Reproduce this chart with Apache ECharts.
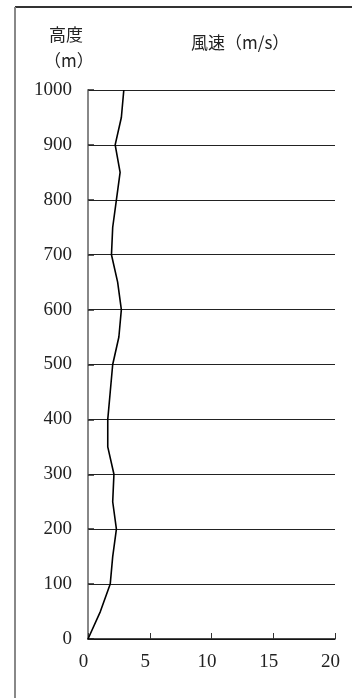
<!DOCTYPE html>
<html>
<head>
<meta charset="utf-8">
<script src="https://cdn.jsdelivr.net/npm/echarts@6/dist/echarts.min.js"></script>
<style>
html,body{margin:0;padding:0;background:#fff;}
#c{width:352px;height:698px;}
</style>
</head>
<body>
<div id="c"></div>
<script>
// Heights (m) and wind speeds (m/s)
var heights = [0, 50, 100, 150, 200, 250, 300, 350, 400, 450, 500, 550, 600, 650, 700, 750, 800, 850, 900, 950, 1000];
var windSpeed = [0, 1.0, 1.8, 2.0, 2.3, 2.0, 2.1, 1.6, 1.6, 1.8, 2.0, 2.5, 2.7, 2.4, 1.9, 2.0, 2.3, 2.6, 2.2, 2.7, 2.9];
var yTitle1 = '高度';
var yTitle2 = '（m）';
var xTitle = '風速（m/s）';

var pts = heights.map(function (h, i) { return [windSpeed[i], h]; });
var numFont = '"Liberation Serif", "DejaVu Serif", serif';
var cjkFont = '"Noto Sans CJK JP", "Noto Sans CJK SC", sans-serif';

var chart = echarts.init(document.getElementById('c'), null, {renderer: 'canvas'});
chart.setOption({
  backgroundColor: '#fff',
  animation: false,
  grid: {left: 88, right: 17, top: 90, bottom: 59},
  xAxis: {
    type: 'value', min: 0, max: 20, interval: 5,
    axisLine: {show: true, onZero: false, lineStyle: {color: '#111', width: 1.5}},
    axisTick: {show: true, inside: true, length: 6, lineStyle: {color: '#333', width: 1}},
    axisLabel: {color: '#222', fontFamily: numFont, fontSize: 19, margin: 14, padding: [0, 9, 0, 0],
      formatter: function (v) { return String(v); }},
    splitLine: {show: false}
  },
  yAxis: {
    type: 'value', min: 0, max: 1000, interval: 100,
    axisLine: {show: true, onZero: false, lineStyle: {color: '#888', width: 2}},
    axisTick: {show: true, inside: true, length: 6, lineStyle: {color: '#222', width: 1.5}},
    axisLabel: {color: '#222', fontFamily: numFont, fontSize: 19, margin: 16,
      formatter: function (v) { return String(v); }},
    splitLine: {show: true, lineStyle: {color: '#222', width: 1}}
  },
  series: [{
    type: 'line',
    data: pts,
    showSymbol: false,
    symbol: 'none',
    lineStyle: {color: '#000', width: 1.6},
    z: 5
  }],
  graphic: [
    {type: 'line', shape: {x1: 15, y1: 7, x2: 352, y2: 7}, style: {stroke: '#333', lineWidth: 2}},
    {type: 'line', shape: {x1: 15, y1: 7, x2: 15, y2: 698}, style: {stroke: '#888', lineWidth: 2}},
    {type: 'text', left: 49, top: 26, style: {text: yTitle1, font: '17px ' + cjkFont, fill: '#222'}},
    {type: 'text', left: 44, top: 52, style: {text: yTitle2, font: '17px ' + cjkFont, fill: '#222'}},
    {type: 'text', left: 191, top: 34, style: {text: xTitle, font: '17px ' + cjkFont, fill: '#222'}}
  ]
});
</script>
</body>
</html>
